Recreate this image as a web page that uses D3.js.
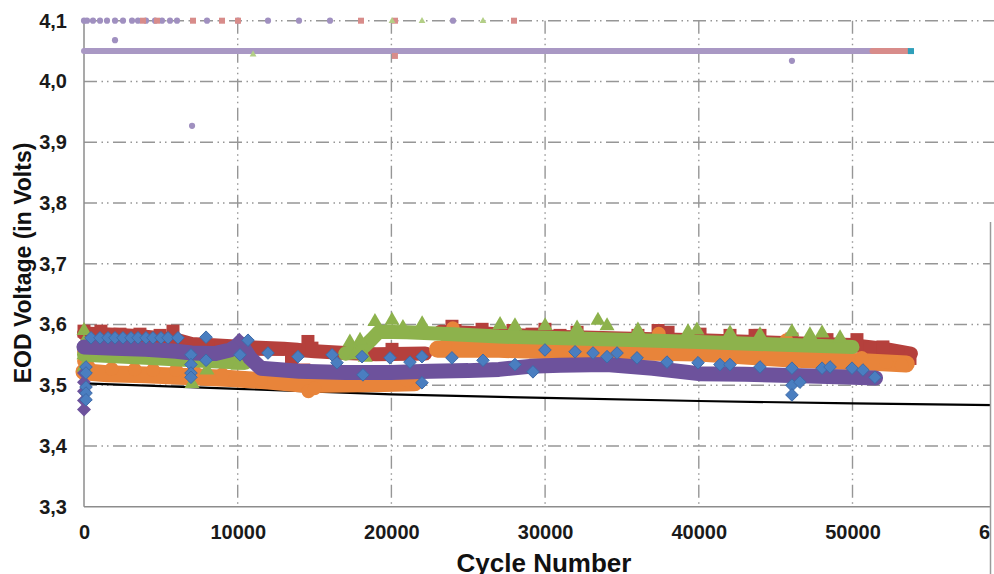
<!DOCTYPE html>
<html>
<head>
<meta charset="utf-8">
<script src="https://cdn.jsdelivr.net/npm/d3@7"></script>
<style>
  body { margin: 0; background: #fff; }
  svg { display: block; font-family: "Liberation Sans", Arial, sans-serif; }
</style>
</head>
<body>
<figure id="chart" style="margin:0"></figure>
<script>
// tick values
const xTicks = [0, 10000, 20000, 30000, 40000, 50000, 60000];
const yTicks = [3.3, 3.4, 3.5, 3.6, 3.7, 3.8, 3.9, 4.0, 4.1];

// black reference line
const refCycles = [0, 10000, 20000, 30000, 40000, 50000, 60000];
const refVolts = [3.503, 3.494, 3.485, 3.479, 3.474, 3.470, 3.467];

// red squares: band + visible squares
const redBandCycles = [0, 2000, 4000, 6000, 7000, 9000, 11000, 13000, 15000, 17000, 19000, 22200, 22300, 23200, 26000, 30000, 35000, 40000, 45000, 50000, 52000, 53800];
const redBandVolts = [3.585, 3.583, 3.58, 3.575, 3.568, 3.565, 3.562, 3.56, 3.556, 3.553, 3.551, 3.552, null, 3.588, 3.585, 3.58, 3.577, 3.574, 3.57, 3.566, 3.56, 3.552];
const redMarkCycles = [0, 1100, 2340, 3640, 4950, 5790, 7610, 8910, 11320, 12620, 13530, 14570, 14830, 13500, 14300, 14800, 20040, 21990, 23940, 24140, 25900, 27910, 29150, 29990, 30970, 32080, 36040, 37350, 38000, 40080, 42030, 43660, 43980, 46060, 48340, 50290, 51140, 51980, 52960, 53740];
const redMarkVolts = [3.589, 3.589, 3.584, 3.584, 3.582, 3.589, 3.559, 3.561, 3.559, 3.559, 3.559, 3.572, 3.561, 3.545, 3.525, 3.51, 3.559, 3.552, 3.597, 3.59, 3.592, 3.59, 3.584, 3.592, 3.582, 3.587, 3.582, 3.59, 3.587, 3.584, 3.582, 3.582, 3.582, 3.576, 3.575, 3.575, 3.559, 3.563, 3.551, 3.544];

// orange circles
const orangeBandCycles = [0, 1500, 4000, 7000, 9500, 12000, 14500, 17000, 19500, 21500, 22000, 23000, 27000, 30000, 35000, 40000, 43000, 46000, 49000, 51000, 53500];
const orangeBandVolts = [3.522, 3.519, 3.517, 3.514, 3.511, 3.507, 3.501, 3.502, 3.503, 3.504, null, 3.559, 3.559, 3.557, 3.555, 3.553, 3.548, 3.543, 3.540, 3.538, 3.535];
const orangeMarkCycles = [0, 0, 0, 300, 1800, 3300, 4500, 6000, 7200, 9000, 11500, 14600, 15000, 21000, 23500, 24000, 37400, 45700, 50600, 52200, 53200];
const orangeMarkVolts = [3.555, 3.54, 3.52, 3.53, 3.527, 3.526, 3.525, 3.525, 3.522, 3.518, 3.51, 3.49, 3.495, 3.508, 3.565, 3.594, 3.585, 3.574, 3.545, 3.538, 3.533];

// green triangles
const greenBandCycles = [0, 4000, 8000, 10500, 10600, 17000, 18000, 18700, 19200, 21000, 24000, 27000, 30000, 35000, 40000, 45000, 50000];
const greenBandVolts = [3.55, 3.545, 3.54, 3.537, null, 3.552, 3.558, 3.575, 3.588, 3.587, 3.584, 3.58, 3.578, 3.575, 3.571, 3.567, 3.563];
const greenMarkCycles = [0, 0, 0, 0, 7030, 8000, 10020, 17300, 17960, 17600, 18300, 18930, 20040, 20750, 22000, 27070, 28040, 30000, 32080, 33440, 34030, 36040, 39300, 39880, 42030, 43980, 46060, 47230, 48020, 49190];
const greenMarkVolts = [3.59, 3.57, 3.55, 3.53, 3.503, 3.525, 3.533, 3.571, 3.574, 3.55, 3.546, 3.605, 3.607, 3.595, 3.601, 3.60, 3.598, 3.598, 3.594, 3.607, 3.598, 3.591, 3.588, 3.591, 3.586, 3.583, 3.588, 3.583, 3.586, 3.578];

// purple band
const purpleBandCycles = [0, 2000, 4000, 6000, 7000, 8500, 9500, 10200, 10800, 11500, 14000, 17000, 20000, 22500, 25000, 27000, 29000, 31000, 34000, 37000, 40000, 43000, 46000, 49000, 51500];
const purpleBandVolts = [3.563, 3.561, 3.559, 3.556, 3.553, 3.552, 3.558, 3.568, 3.545, 3.528, 3.523, 3.521, 3.521, 3.523, 3.524, 3.526, 3.531, 3.533, 3.534, 3.528, 3.519, 3.518, 3.516, 3.514, 3.512];
const purpleMarkCycles = [0, 0, 0, 0, 0, 10100];
const purpleMarkVolts = [3.46, 3.475, 3.49, 3.505, 3.52, 3.575];

// blue diamonds
const blueCycles = [455, 1041, 1561, 2017, 2537, 3058, 3513, 4034, 4489, 5010, 5465, 6116, 130, 130, 130, 130, 130, 6960, 6960, 6960, 6960, 7940, 7940, 10150, 10670, 11970, 13920, 16140, 16460, 18090, 18150, 19910, 21210, 21990, 21990, 23940, 25960, 28040, 29210, 29990, 31950, 33120, 34030, 34680, 35980, 37930, 39950, 41380, 42030, 43980, 46060, 46060, 46060, 46580, 48020, 48540, 49970, 50680, 51460];
const blueVolts = [3.578, 3.578, 3.578, 3.578, 3.578, 3.578, 3.578, 3.578, 3.578, 3.578, 3.578, 3.578, 3.53, 3.52, 3.497, 3.487, 3.476, 3.55, 3.534, 3.52, 3.513, 3.579, 3.541, 3.55, 3.574, 3.553, 3.547, 3.55, 3.537, 3.547, 3.517, 3.545, 3.538, 3.547, 3.504, 3.545, 3.541, 3.534, 3.522, 3.558, 3.555, 3.553, 3.547, 3.553, 3.545, 3.538, 3.537, 3.534, 3.534, 3.53, 3.528, 3.5, 3.484, 3.505, 3.528, 3.53, 3.528, 3.525, 3.513];

// upper (charge) series
const lavLineCycles = [0, 51300];
const lavLineVolts = [4.05, 4.05];
const pinkLineCycles = [51300, 53600];
const pinkLineVolts = [4.05, 4.05];
const tealLineCycles = [53600, 54000];
const tealLineVolts = [4.05, 4.05];
const lavDotCycles = [0, 195, 585, 1041, 1496, 2017, 2537, 3123, 3513, 4034, 4620, 5075, 5596, 6051, 8003, 10020, 11971, 13988, 16005, 24008, 2017, 7030, 46060];
const lavDotVolts = [4.1, 4.1, 4.1, 4.1, 4.1, 4.1, 4.1, 4.1, 4.1, 4.1, 4.1, 4.1, 4.1, 4.1, 4.1, 4.1, 4.1, 4.1, 4.1, 4.1, 4.068, 3.927, 4.034];
const pinkDotCycles = [3839, 4750, 7092, 8978, 10020, 18022, 20234, 27977, 20230];
const pinkDotVolts = [4.1, 4.1, 4.1, 4.1, 4.1, 4.1, 4.1, 4.1, 4.042];
const greenDotCycles = [20039, 21991, 25960, 11000];
const greenDotVolts = [4.1, 4.1, 4.1, 4.045];

const width = 994, height = 574;
const plotLeft = 84, plotTop = 20.7, plotBottom = 506.7;

const svg = d3.select("#chart").append("svg")
  .attr("width", width)
  .attr("height", height);

const x = d3.scaleLinear().domain([0, 60000]).range([plotLeft, plotLeft + 922.2]);
const y = d3.scaleLinear().domain([3.3, 4.1]).range([plotBottom, plotTop]);

const pts = (cs, vs) => cs.map((c, i) => ({ c: c, v: vs[i] }));
const commaFmt = d3.formatLocale({ decimal: ",", thousands: "", grouping: [3], currency: ["", ""] }).format(".1f");

// gridlines (dash-dot-dot)
const dash = "13,4.5,1.5,4,1.5,4.5";
svg.append("g").selectAll("line")
  .data(yTicks.slice(1))
  .enter().append("line")
  .attr("x1", plotLeft).attr("x2", width)
  .attr("y1", d => y(d)).attr("y2", d => y(d))
  .attr("stroke", "#969696").attr("stroke-width", 1.4)
  .attr("stroke-dasharray", dash);
svg.append("g").selectAll("line")
  .data(xTicks.slice(1))
  .enter().append("line")
  .attr("x1", d => x(d)).attr("x2", d => x(d))
  .attr("y1", plotTop).attr("y2", plotBottom)
  .attr("stroke", "#969696").attr("stroke-width", 1.4)
  .attr("stroke-dasharray", dash);

// axes
svg.append("g")
  .attr("transform", "translate(" + plotLeft + ",0)")
  .call(d3.axisLeft(y).tickValues(yTicks).tickSize(0).tickPadding(17).tickFormat(commaFmt))
  .call(g => g.select(".domain").remove());
svg.append("g")
  .attr("transform", "translate(0," + plotBottom + ")")
  .call(d3.axisBottom(x).tickValues(xTicks).tickSize(0).tickPadding(18).tickFormat(d3.format("d")))
  .call(g => g.select(".domain").remove());
svg.selectAll(".tick text")
  .attr("font-size", 20).attr("font-weight", "bold").attr("fill", "#1a1a1a")
  .attr("font-family", "Liberation Sans, Arial, sans-serif");

svg.append("line")
  .attr("x1", plotLeft).attr("x2", plotLeft).attr("y1", plotTop).attr("y2", plotBottom)
  .attr("stroke", "#8c8c8c").attr("stroke-width", 1.5);
svg.append("line")
  .attr("x1", plotLeft).attr("x2", width).attr("y1", plotBottom).attr("y2", plotBottom)
  .attr("stroke", "#8c8c8c").attr("stroke-width", 1.5);

// line generator shared by bands
const line = d3.line()
  .defined(d => d.v != null)
  .x(d => x(d.c)).y(d => y(d.v));

function band(cs, vs, color, w) {
  svg.append("path")
    .datum(pts(cs, vs))
    .attr("d", line)
    .attr("fill", "none")
    .attr("stroke", color)
    .attr("stroke-width", w)
    .attr("stroke-linejoin", "round")
    .attr("stroke-linecap", "round");
}

function marks(cs, vs, shape, color, stroke) {
  svg.append("g").selectAll("path")
    .data(pts(cs, vs))
    .enter().append("path")
    .attr("transform", d => "translate(" + x(d.c) + "," + y(d.v) + ")")
    .attr("d", shape)
    .attr("fill", color)
    .attr("stroke", stroke || "none")
    .attr("stroke-width", 1);
}

const square = "M-6.5,-6.5H6.5V6.5H-6.5Z";
const circle = d3.symbol(d3.symbolCircle, 150)();
const triangle = "M0,-8.5L7.5,4.5L-7.5,4.5Z";
const diamond = "M0,-6.3L6.3,0L0,6.3L-6.3,0Z";
const bigDiamond = "M0,-7L7,0L0,7L-7,0Z";
const dot = d3.symbol(d3.symbolCircle, 30)();
const smallSquare = "M-3,-3H3V3H-3Z";
const smallTriangle = "M0,-3.8L3.4,2.4L-3.4,2.4Z";

// black reference
svg.append("path")
  .datum(pts(refCycles, refVolts))
  .attr("d", line)
  .attr("fill", "none")
  .attr("stroke", "#000")
  .attr("stroke-width", 2.2);

// lower series
band(redBandCycles, redBandVolts, "#b5403c", 14);
marks(redMarkCycles, redMarkVolts, square, "#b5403c");
band(orangeBandCycles, orangeBandVolts, "#e8843a", 17);
marks(orangeMarkCycles, orangeMarkVolts, circle, "#e8843a");
band(greenBandCycles, greenBandVolts, "#8db24c", 14);
marks(greenMarkCycles, greenMarkVolts, triangle, "#8db24c");
band(purpleBandCycles, purpleBandVolts, "#6d529c", 15);
marks(purpleMarkCycles, purpleMarkVolts, bigDiamond, "#6d529c");
marks(blueCycles, blueVolts, diamond, "#4a7ec0", "#3d6aa8");

// upper series
band(lavLineCycles, lavLineVolts, "#a998c4", 6);
band(pinkLineCycles, pinkLineVolts, "#d88c8a", 6);
svg.append("path")
  .datum(pts(tealLineCycles, tealLineVolts))
  .attr("d", line)
  .attr("stroke", "#2f9fba").attr("stroke-width", 6);
marks(lavDotCycles, lavDotVolts, dot, "#a090c0");
marks(pinkDotCycles, pinkDotVolts, smallSquare, "#d88c8a");
marks(greenDotCycles, greenDotVolts, smallTriangle, "#b3cf86");

// right-hand panel edge
svg.append("rect")
  .attr("x", 990).attr("y", 222).attr("width", 4).attr("height", height - 222)
  .attr("fill", "#fff");
svg.append("line")
  .attr("x1", 990.5).attr("x2", 990.5).attr("y1", 222).attr("y2", height)
  .attr("stroke", "#9a9a9a").attr("stroke-width", 1.5);

// axis titles
svg.append("text")
  .attr("transform", "translate(31,263) rotate(-90)")
  .attr("text-anchor", "middle")
  .attr("font-size", 23).attr("font-weight", "bold").attr("fill", "#111")
  .text("EOD Voltage (in Volts)");
svg.append("text")
  .attr("x", 544).attr("y", 572)
  .attr("text-anchor", "middle")
  .attr("font-size", 26).attr("font-weight", "bold").attr("fill", "#111")
  .text("Cycle Number");
</script>
</body>
</html>
